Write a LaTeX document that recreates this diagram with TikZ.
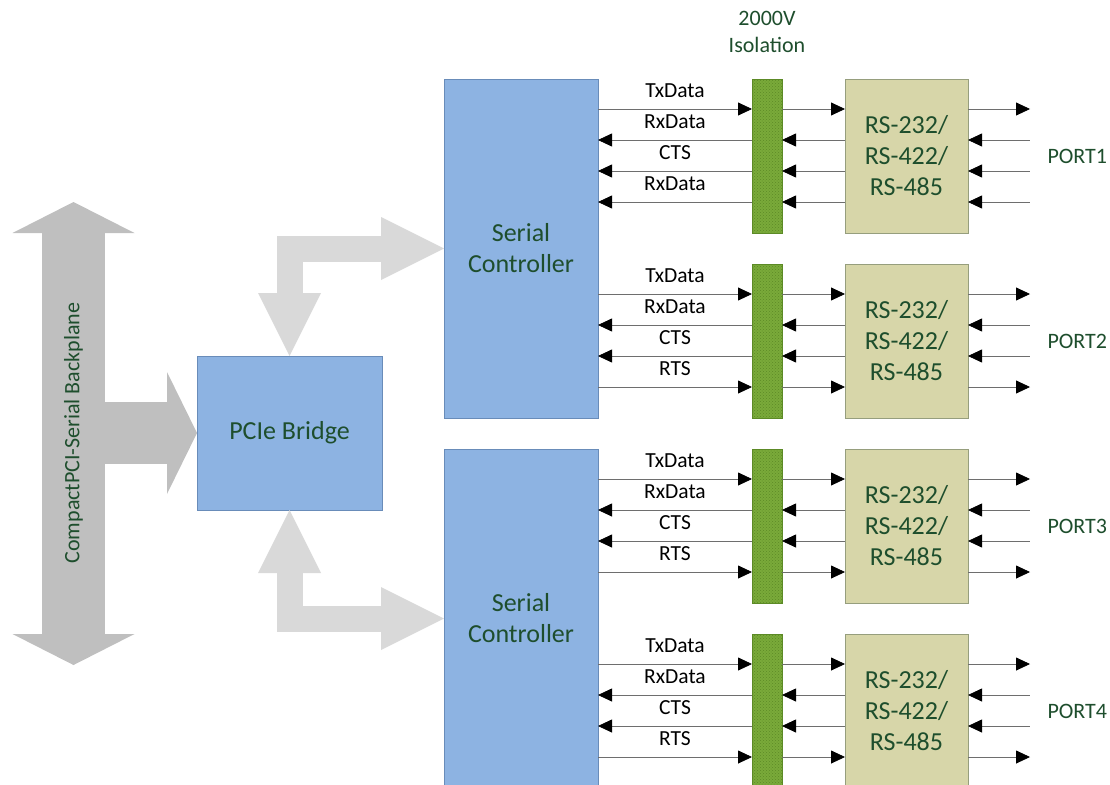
\documentclass[tikz,border=0pt]{standalone}
\usepackage{fontspec}
\setmainfont{Carlito}
\usetikzlibrary{positioning,calc,arrows.meta,patterns}

\definecolor{ctrlblue}{RGB}{141,179,226}
\definecolor{ctrledge}{RGB}{105,140,185}
\definecolor{rskhaki}{RGB}{215,214,169}
\definecolor{rsedge}{RGB}{150,158,125}
\definecolor{isogreen}{RGB}{122,170,58}
\definecolor{isodot}{RGB}{92,138,38}
\definecolor{txtgreen}{RGB}{30,78,45}
\definecolor{busdark}{RGB}{191,191,191}
\definecolor{buslight}{RGB}{217,217,217}
\definecolor{sigline}{RGB}{110,110,110}

\tikzset{
  bigtxt/.style={font=\fontsize{26}{31}\selectfont, text=txtgreen, align=center},
  smalltxt/.style={font=\fontsize{22}{27}\selectfont, text=txtgreen, align=center},
  ctrl/.style={draw=ctrledge, fill=ctrlblue, minimum width=154pt, minimum height=339pt, inner sep=0pt, outer sep=0pt, bigtxt},
  bridge/.style={draw=ctrledge, fill=ctrlblue, minimum width=185pt, minimum height=154pt, inner sep=0pt, outer sep=0pt, bigtxt},
  iso/.style={draw=isodot, fill=isogreen, postaction={pattern=crosshatch dots, pattern color=isodot}, minimum width=30pt, minimum height=154pt, inner sep=0pt, outer sep=0pt},
  rsbox/.style={draw=rsedge, fill=rskhaki, minimum width=123pt, minimum height=154pt, inner sep=0pt, outer sep=0pt, bigtxt},
  port/.style={smalltxt, anchor=west},
  lbl/.style={font=\fontsize{21.5}{24}\selectfont, text=black},
  sig/.style={draw=sigline, line width=0.8pt, >={Triangle[length=14pt,width=13pt,color=black]}},
  busbar/.style={line join=miter}
}

\begin{document}
\begin{tikzpicture}[x=1pt, y=-1pt]

    % --- Page size (same as the reference) ---
    \useasboundingbox (0,0) rectangle (1110,784);

    % --- Bridge and serial controllers ---
    \node[bridge] (br) at (289.5,433) {PCIe Bridge};
    \node[ctrl] (sc1) at (521,248.5) {Serial\\Controller};
    % second controller runs past the bottom edge
    \node[ctrl, below=31pt of sc1] (sc2) {Serial\\Controller};

    % --- Isolation bars, transceivers and ports ---
    \foreach \i/\y in {1/156,2/341,3/526,4/711}{
        \node[iso] (iso\i) at (767,\y) {};
        \node[rsbox, right=63pt of iso\i] (rs\i) {RS-232/\\RS-422/\\RS-485};
        \node[port, right=76pt of rs\i.east] (port\i) {PORT\i};
        % free ends of the port lines
        \coordinate (pe\i) at ($(rs\i.east)+(62,0)$);
    }

    \node[smalltxt, above=23pt of iso1] (isolbl) {2000V\\Isolation};

    % --- Signal lines ---
    % rows sit 30, 61, 92 and 123 below the top of each bar
    \foreach \i/\c/\dlab in {1/sc1/RxData,2/sc1/RTS,3/sc2/RTS,4/sc2/RTS}{
        \coordinate (a\i) at ($(iso\i.north)+(0,30)$);
        \coordinate (b\i) at ($(iso\i.north)+(0,61)$);
        \coordinate (c\i) at ($(iso\i.north)+(0,92)$);
        \coordinate (d\i) at ($(iso\i.north)+(0,123)$);

        % TxData goes out
        \draw[sig,->] (\c.east |- a\i) -- node[lbl, above=8pt] {TxData} (iso\i.west |- a\i);
        \draw[sig,->] (iso\i.east |- a\i) -- (rs\i.west |- a\i);
        \draw[sig,->] (rs\i.east |- a\i) -- (pe\i |- a\i);

        % RxData and CTS come in
        \draw[sig,<-] (\c.east |- b\i) -- node[lbl, above=8pt] {RxData} (iso\i.west |- b\i);
        \draw[sig,<-] (iso\i.east |- b\i) -- (rs\i.west |- b\i);
        \draw[sig,<-] (rs\i.east |- b\i) -- (pe\i |- b\i);
        \draw[sig,<-] (\c.east |- c\i) -- node[lbl, above=8pt] {CTS} (iso\i.west |- c\i);
        \draw[sig,<-] (iso\i.east |- c\i) -- (rs\i.west |- c\i);
        \draw[sig,<-] (rs\i.east |- c\i) -- (pe\i |- c\i);

        % last row: in on port 1, out (RTS) on the others
        \ifnum\i=1
            \draw[sig,<-] (\c.east |- d\i) -- node[lbl, above=8pt] {\dlab} (iso\i.west |- d\i);
            \draw[sig,<-] (iso\i.east |- d\i) -- (rs\i.west |- d\i);
            \draw[sig,<-] (rs\i.east |- d\i) -- (pe\i |- d\i);
        \else
            \draw[sig,->] (\c.east |- d\i) -- node[lbl, above=8pt] {\dlab} (iso\i.west |- d\i);
            \draw[sig,->] (iso\i.east |- d\i) -- (rs\i.west |- d\i);
            \draw[sig,->] (rs\i.east |- d\i) -- (pe\i |- d\i);
        \fi
    }

    % --- Bus arrows from the bridge ---
    \draw[busbar, buslight, line width=26pt,
          {Triangle[length=63pt,width=63pt,line width=0pt]}-{Triangle[length=63pt,width=63pt,line width=0pt]}]
          (br.north) |- (sc1.west);
    \draw[busbar, buslight, line width=26pt,
          {Triangle[length=63pt,width=63pt,line width=0pt]}-{Triangle[length=63pt,width=63pt,line width=0pt]}]
          (br.south) |- (sc2.west);

    % --- Backplane bus ---
    \coordinate (bptop) at (73.5,202);
    \coordinate (bpbot) at (73.5,665);
    \coordinate (bp) at (73.5,433);
    \draw[busdark, line width=63pt,
          {Triangle[length=31pt,width=122pt,line width=0pt]}-{Triangle[length=31pt,width=122pt,line width=0pt]}]
          (bptop) -- (bpbot);
    \draw[busdark, line width=62pt, -{Triangle[length=30pt,width=122pt,line width=0pt]}]
          (bp) -- (br.west);
    \node[smalltxt, rotate=90] (bplbl) at (bp) {CompactPCI-Serial Backplane};

\end{tikzpicture}
\end{document}
